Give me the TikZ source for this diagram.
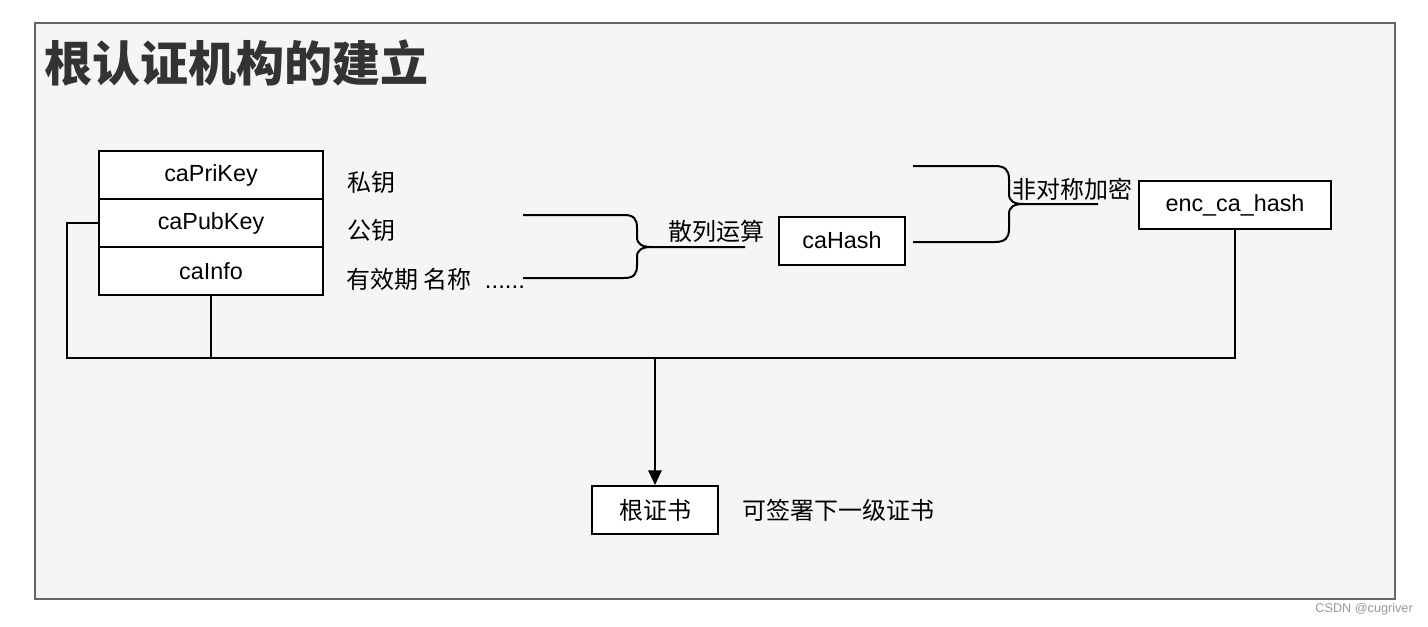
\documentclass[tikz,border=0pt]{standalone}
\usepackage{fontspec}
\setmainfont{Liberation Sans}
\newfontfamily\cjk{Noto Sans CJK SC}
\usetikzlibrary{arrows.meta}
\definecolor{bgpanel}{HTML}{F5F5F5}
\definecolor{frame}{HTML}{666666}
\definecolor{titlec}{HTML}{333333}
\tikzset{
  line/.style={line width=1.5pt, black},
  field/.style={draw=black, line width=1.5pt, fill=white, minimum width=168pt, minimum height=36pt, inner sep=0pt, font=\fontsize{17.5}{20}\selectfont},
  boxn/.style={draw=black, line width=1.5pt, fill=white, minimum height=36pt, inner sep=0pt, font=\fontsize{17.5}{20}\selectfont},
  lbl/.style={inner sep=0pt, anchor=west, font=\cjk\fontsize{18}{21}\selectfont},
}
\begin{document}
\begin{tikzpicture}[x=0.75pt,y=-0.75pt]
\useasboundingbox (0,0) rectangle (1428,626);
\fill[white] (0,0) rectangle (1428,626);
\draw[frame, fill=bgpanel, line width=1.5pt] (35,23) rectangle (1395,599);
\node[anchor=west, inner sep=0pt, text=titlec, font=\cjk\bfseries\fontsize{36}{40}\selectfont] (title) at (44,63) {根认证机构的建立};

% fields
\node[field] (pri) at (211,175) {caPriKey};
\node[field] (pub) at (211,223) {caPubKey};
\node[field] (info) at (211,271) {caInfo};

\node[lbl] (l1) at (347,182) {私钥};
\node[lbl] (l2) at (347,230) {公钥};
\node[lbl] (l3) at (346,279) {有效期\hspace{4pt}名称\hspace{10pt}{\fontspec{Liberation Sans}......}};

% brace 1
\coordinate (b1t) at (523,215);
\coordinate (b1b) at (523,278);
\coordinate (b1e) at (745,247);
\draw[line] (b1t) -- (624,215) .. controls (634,215) and (637,219) .. (637,228) -- (637,237) .. controls (637,244) and (642,247) .. (651,247) -- (b1e);
\draw[line] (b1b) -- (624,278) .. controls (634,278) and (637,274) .. (637,265) -- (637,257) .. controls (637,250) and (642,247) .. (651,247);
\node[lbl, anchor=south west] (hashop) at (668,243) {散列运算};

\node[boxn, minimum width=94.5pt] (hash) at (842,240.5) {caHash};

% brace 2
\coordinate (b2t) at (913,166);
\coordinate (b2b) at (913,242);
\coordinate (b2e) at (1098,204);
\draw[line] (b2t) -- (995,166) .. controls (1005,166) and (1009,170) .. (1009,179) -- (1009,194) .. controls (1009,201) and (1014,204) .. (1023,204) -- (b2e);
\draw[line] (b2b) -- (995,242) .. controls (1005,242) and (1009,238) .. (1009,229) -- (1009,214) .. controls (1009,207) and (1014,204) .. (1023,204);
\node[lbl, anchor=south west] (encop) at (1012,201) {非对称加密};

\node[boxn, minimum width=144pt] (enc) at (1235,205) {enc\_ca\_hash};

\node[boxn, minimum width=94.5pt] (root) at (655,510) {\cjk\fontsize{18}{21}\selectfont 根证书};
\node[lbl] (rootl) at (742,510) {可签署下一级证书};

% connectors
\coordinate (jl) at (67,358);
\coordinate (jm) at (655,358);
\draw[line] (pub.west) -- (67,223) -- (jl) -- (1235,358) -- (enc.south);
\draw[line] (info.south) -- (211,358);
\draw[line, -{Triangle[length=11pt,width=10pt]}] (jm) -- (root.north);

\node[anchor=east, inner sep=0pt, text=gray!80, font=\fontsize{9.5}{11}\selectfont] (wm) at (1413,609) {CSDN @cugriver};
\end{tikzpicture}
\end{document}
